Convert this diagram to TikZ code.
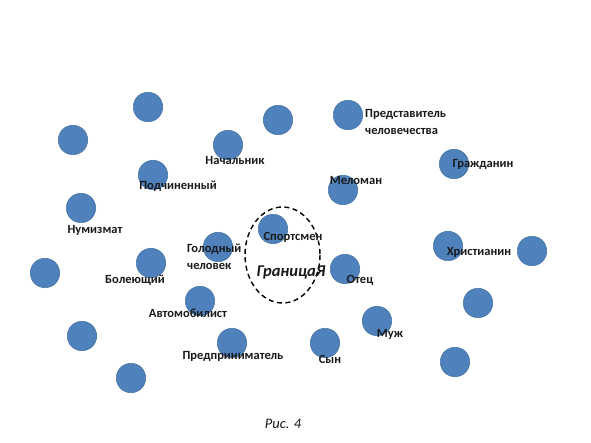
\documentclass[tikz,border=0pt]{standalone}
\usepackage{fontspec}
\setmainfont{Carlito}
\definecolor{dotBlue}{HTML}{4F81BD}
\definecolor{dotEdge}{HTML}{43709F}

\begin{document}
\begin{tikzpicture}[x=1pt,y=-1pt,font=\bfseries\fontsize{12.5}{17}\selectfont]
                \tikzset{dot/.style={circle,fill=dotBlue,draw=dotEdge,line width=0.5pt,minimum size=29.5pt,inner sep=0pt},
                         lbl/.style={inner sep=0pt,text=black!90}}
                \useasboundingbox (0,0) rectangle (591,443);
                % circles
                \node[dot] (dTopA) at (148,107) {};
                \node[dot] (dTopB) at (73,140) {};
                \node[dot] (dBoss) at (228,145) {};
                \node[dot] (dTopC) at (278,120) {};
                \node[dot] (dRep) at (348,115) {};
                \node[dot] (dSub) at (153,175) {};
                \node[dot] (dCitizen) at (454,164) {};
                \node[dot] (dMusic) at (343,190) {};
                \node[dot] (dCoin) at (81,208) {};
                \node[dot] (dSport) at (273,229) {};
                \node[dot] (dHungry) at (218,247) {};
                \node[dot] (dChrist) at (448,246) {};
                \node[dot] (dRight) at (532,251) {};
                \node[dot] (dLeft) at (45,273) {};
                \node[dot] (dFan) at (151,263) {};
                \node[dot] (dFather) at (345,269) {};
                \node[dot] (dDriver) at (200,301) {};
                \node[dot] (dRightB) at (478,303) {};
                \node[dot] (dHusband) at (377,321) {};
                \node[dot] (dLeftB) at (82,336) {};
                \node[dot] (dBiz) at (232,343) {};
                \node[dot] (dSon) at (325,343) {};
                \node[dot] (dRightC) at (455,362) {};
                \node[dot] (dLeftC) at (131,378) {};
                % border of the self
                \draw[line width=1.4pt,dash pattern=on 5pt off 3.5pt] (282.5,255) ellipse (37.5 and 48);
                % labels
                \node[lbl] (lBoss) at (235,160) {Начальник};
                \node[lbl] (lSub) at (178,186) {Подчиненный};
                \node[lbl] (lCoin) at (95,230) {Нумизмат};
                \node[lbl] (lSport) at (293,237) {Спортсмен};
                \node[lbl,anchor=west,align=left] (lHungry) at (187,257) {Голодный\\человек};
                \node[lbl,anchor=west,align=left] (lRep) at (365,122) {Представитель\\человечества};
                \node[lbl] (lCitizen) at (483,164) {Гражданин};
                \node[lbl] (lMusic) at (356,180) {Меломан};
                \node[lbl] (lChrist) at (479,252) {Христианин};
                \node[lbl] (lFan) at (135,280) {Болеющий};
                \node[lbl] (lDriver) at (188,313) {Автомобилист};
                \node[lbl] (lBiz) at (233,356) {Предприниматель};
                \node[lbl] (lFather) at (360,280) {Отец};
                \node[lbl] (lHusband) at (390,334) {Муж};
                \node[lbl] (lSon) at (330,359) {Сын};
                \node[lbl,font=\bfseries\itshape\fontsize{16.5}{20}\selectfont] (lBorder) at (291,272) {ГраницаЯ};
                \node[lbl,font=\itshape\fontsize{14.5}{17}\selectfont] (lCaption) at (283,424) {Рис. 4};
            \end{tikzpicture}
\end{document}
